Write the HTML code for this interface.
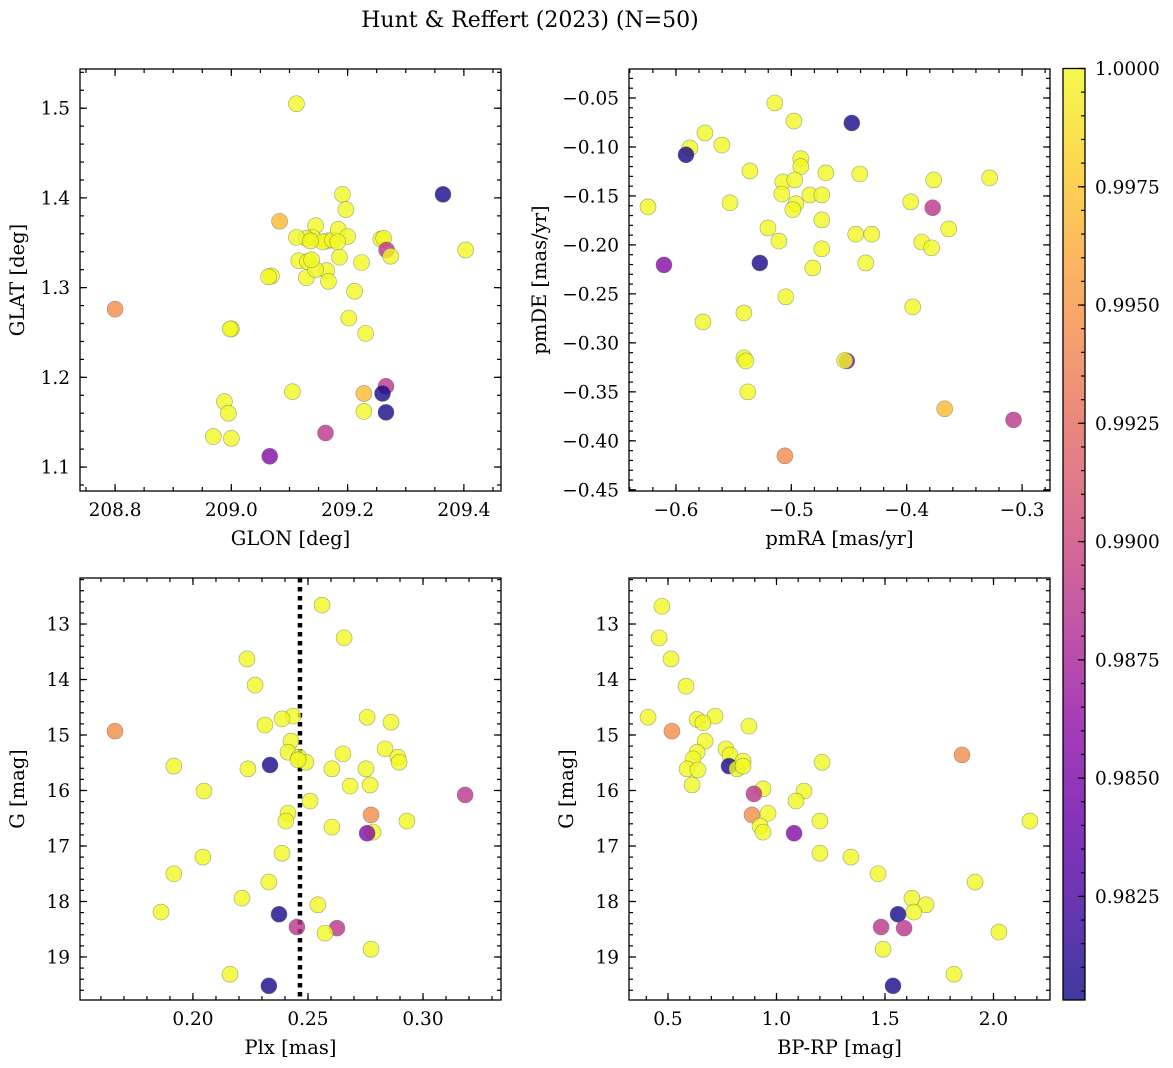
<!DOCTYPE html>
<html><head><meta charset="utf-8"><style>
html,body{margin:0;padding:0;background:#fff;}
svg{display:block;font-family:"DejaVu Serif","Liberation Serif",serif;}
</style></head><body>
<svg id="fig" width="1173" height="1068" viewBox="0 0 1173 1068" xmlns="http://www.w3.org/2000/svg">
<defs>
<linearGradient id="plasma" x1="0" y1="1" x2="0" y2="0">
<stop offset="0" stop-color="#0d0887"/><stop offset="0.1" stop-color="#41049d"/><stop offset="0.2" stop-color="#6a00a8"/><stop offset="0.3" stop-color="#8f0da4"/><stop offset="0.4" stop-color="#b12a90"/><stop offset="0.5" stop-color="#cc4778"/><stop offset="0.6" stop-color="#e16462"/><stop offset="0.7" stop-color="#f2844b"/><stop offset="0.8" stop-color="#fca636"/><stop offset="0.9" stop-color="#fcce25"/><stop offset="1" stop-color="#f0f921"/>
</linearGradient>
</defs>
<text x="530" y="27" font-size="22" text-anchor="middle">Hunt &amp; Reffert (2023) (N=50)</text>
</svg>
<script>
// ---- data ----
const glon = [209.112,209.364,209.083,209.191,209.197,209.145,209.140,209.129,209.164,209.157,209.174,209.184,209.200,209.257,209.262,209.267,209.274,209.403,209.224,209.116,209.131,209.069,209.064,209.129,209.164,209.145,209.167,209.212,208.800,209.202,209.000,209.231,209.105,209.266,209.228,209.260,208.988,208.995,209.228,209.266,208.969,209.000,209.162,209.066,209.138,209.186,209.112,209.136,209.183,208.998];
const glat = [1.505,1.404,1.374,1.404,1.387,1.369,1.356,1.355,1.352,1.351,1.353,1.365,1.357,1.354,1.355,1.342,1.335,1.342,1.328,1.330,1.329,1.313,1.312,1.311,1.319,1.320,1.307,1.296,1.276,1.266,1.254,1.249,1.184,1.190,1.182,1.182,1.173,1.160,1.162,1.161,1.134,1.132,1.138,1.112,1.331,1.334,1.356,1.352,1.351,1.254];
const probPos = [1,0.9806,0.997,1,1,1,1,1,1,1,1,1,1,1,1,0.9888,1,1,1,1,1,1,1,1,1,1,1,1,0.9945,1,1,1,1,0.9888,0.997,0.9806,1,1,1,0.9806,1,1,0.9888,0.9855,1,1,1,1,1,1];

const pmra = [-0.5143,-0.4476,-0.4978,-0.5749,-0.5879,-0.5913,-0.5602,-0.4918,-0.4918,-0.5359,-0.4701,-0.4407,-0.3281,-0.3766,-0.5074,-0.4970,-0.4840,-0.4736,-0.5082,-0.6242,-0.5532,-0.4961,-0.3965,-0.3775,-0.4987,-0.4736,-0.5203,-0.3636,-0.4442,-0.4303,-0.5108,-0.3870,-0.4736,-0.3784,-0.6104,-0.5273,-0.4355,-0.4814,-0.5048,-0.5766,-0.5411,-0.3948,-0.5411,-0.5394,-0.4519,-0.5377,-0.3671,-0.3074,-0.5056,-0.4537];
const pmde = [-0.0551,-0.0755,-0.0735,-0.0857,-0.101,-0.108,-0.098,-0.112,-0.120,-0.1245,-0.1265,-0.1276,-0.1316,-0.1337,-0.1357,-0.1337,-0.149,-0.149,-0.148,-0.1612,-0.157,-0.158,-0.156,-0.162,-0.164,-0.1745,-0.1827,-0.1837,-0.189,-0.189,-0.196,-0.197,-0.204,-0.203,-0.2204,-0.2184,-0.2184,-0.2235,-0.253,-0.2786,-0.2694,-0.2633,-0.3153,-0.3184,-0.3184,-0.35,-0.3673,-0.3786,-0.4153,-0.318];
const probPm = [1,0.9806,1,1,1,0.9806,1,1,1,1,1,1,1,1,1,1,1,1,1,1,1,1,1,0.9888,1,1,1,1,1,1,1,1,1,1,0.9855,0.9806,1,1,1,1,1,1,1,1,0.9855,1,0.997,0.9888,0.9945,1];

const plx = [0.2561,0.2657,0.2235,0.2270,0.2757,0.2861,0.2435,0.2387,0.2313,0.1661,0.2426,0.2413,0.2461,0.2491,0.2652,0.2835,0.2891,0.2896,0.1917,0.2239,0.2335,0.2604,0.2752,0.2770,0.2683,0.2048,0.2509,0.3183,0.2774,0.2413,0.2404,0.2930,0.2604,0.2783,0.2757,0.2387,0.2043,0.1917,0.2330,0.2543,0.1861,0.2213,0.2374,0.2452,0.2626,0.2574,0.2774,0.2161,0.2330,0.2457];
const gPlx = [12.66,13.25,13.63,14.10,14.68,14.77,14.66,14.71,14.82,14.93,15.11,15.31,15.40,15.49,15.34,15.25,15.40,15.49,15.56,15.61,15.54,15.61,15.61,15.90,15.92,16.01,16.19,16.08,16.44,16.41,16.55,16.55,16.66,16.75,16.77,17.13,17.20,17.50,17.65,18.06,18.19,17.94,18.23,18.46,18.48,18.57,18.86,19.31,19.52,15.45];
const probPlx = [1,1,1,1,1,1,1,1,1,0.9945,1,1,1,1,1,1,1,1,1,1,0.9806,1,1,1,1,1,1,0.9888,0.9945,1,1,1,1,1,0.9855,1,1,1,1,1,1,1,0.9806,0.9888,0.9888,1,1,1,0.9806,1];
const plxCluster = [0.2465];

const bprp = [0.472,0.459,0.514,0.583,0.408,0.717,0.634,0.661,0.873,0.518,0.671,0.767,0.786,0.634,0.615,0.588,0.638,0.781,0.818,0.846,0.846,0.611,1.210,1.855,0.938,0.896,1.127,1.090,0.961,0.887,0.924,0.938,1.081,1.200,2.168,1.200,1.343,1.468,1.915,1.624,1.689,1.633,1.560,1.482,1.588,2.025,1.491,1.818,1.537];
const gCmd = [12.68,13.25,13.63,14.12,14.68,14.66,14.72,14.78,14.84,14.93,15.11,15.25,15.36,15.31,15.43,15.61,15.63,15.56,15.61,15.47,15.56,15.90,15.49,15.36,15.97,16.06,16.01,16.19,16.41,16.44,16.64,16.75,16.77,16.55,16.55,17.13,17.20,17.50,17.65,17.94,18.06,18.19,18.23,18.46,18.48,18.55,18.86,19.31,19.52];
const probCmd = [1,1,1,1,1,1,1,1,1,0.9945,1,1,1,1,1,1,1,0.9806,1,1,1,1,1,0.9945,1,0.9888,1,1,1,0.9945,1,1,0.9855,1,1,1,1,1,1,1,1,1,0.9806,0.9888,0.9888,1,1,1,0.9806];

const glonTicks = [208.8,209.0,209.2,209.4];
const glatTicks = [1.1,1.2,1.3,1.4,1.5];
const pmraTicks = [-0.6,-0.5,-0.4,-0.3];
const pmdeTicks = [-0.45,-0.40,-0.35,-0.30,-0.25,-0.20,-0.15,-0.10,-0.05];
const plxTicks = [0.20,0.25,0.30];
const gTicks = [13,14,15,16,17,18,19];
const bprpTicks = [0.5,1.0,1.5,2.0];
const cbarTicks = [0.9825,0.9850,0.9875,0.9900,0.9925,0.9950,0.9975,1.0000];

// ---- drawing ----
const NS = "http://www.w3.org/2000/svg";
const svg = document.getElementById('fig');
const PMIN = 0.98031, PMAX = 1.0;
const TFS = 18.5, LFS = 19.5;
const stops = [[13,8,135],[65,4,157],[106,0,168],[143,13,164],[177,42,144],[204,71,120],[225,100,98],[242,132,75],[252,166,54],[252,206,37],[240,249,33]];
function plasma(p){
  let t = Math.max(0, Math.min(1, (p - PMIN) / (PMAX - PMIN))) * 10;
  const i = Math.min(9, Math.floor(t)), f = t - i;
  const a = stops[i], b = stops[i+1];
  return 'rgb(' + a.map((v,k)=>Math.round(v + (b[k]-v)*f)).join(',') + ')';
}
function el(tag, attrs, parent){
  const e = document.createElementNS(NS, tag);
  for (const k in attrs) e.setAttribute(k, attrs[k]);
  (parent || svg).appendChild(e);
  return e;
}
function fmt(v, d){ const s = Math.abs(v).toFixed(d); return (v < 0 ? '\u2212' : '') + s; }

function panel(cfg){
  const g = el('g', {});
  
  
  const L = cfg.box[0], T = cfg.box[1], R = cfg.box[2], B = cfg.box[3];
  const sx = v => L + (v - cfg.xr[0]) / (cfg.xr[1] - cfg.xr[0]) * (R - L);
  const sy = v => T + (v - cfg.yr[0]) / (cfg.yr[1] - cfg.yr[0]) * (B - T);
  const tk = (x1,y1,x2,y2) => el('line', {x1:x1,y1:y1,x2:x2,y2:y2,stroke:'#000','stroke-width':1.2}, g);
  const xlo = Math.min(cfg.xr[0],cfg.xr[1]), xhi = Math.max(cfg.xr[0],cfg.xr[1]);
  const ylo = Math.min(cfg.yr[0],cfg.yr[1]), yhi = Math.max(cfg.yr[0],cfg.yr[1]);
  for (let v = Math.ceil(xlo / cfg.xminor - 1e-6) * cfg.xminor; v <= xhi + 1e-9; v += cfg.xminor){
    const x = sx(v); tk(x,B,x,B-4); tk(x,T,x,T+4);
  }
  for (let v = Math.ceil(ylo / cfg.yminor - 1e-6) * cfg.yminor; v <= yhi + 1e-9; v += cfg.yminor){
    const y = sy(v); tk(L,y,L+4,y); tk(R,y,R-4,y);
  }
  cfg.xticks.forEach(v => {
    const x = sx(v); tk(x,B,x,B-7); tk(x,T,x,T+7);
    const t = el('text', {x:x, y:B+25, 'font-size':TFS, 'text-anchor':'middle'}, g);
    t.textContent = fmt(v, cfg.xd);
    
    
  });
  cfg.yticks.forEach(v => {
    const y = sy(v); tk(L,y,L+7,y); tk(R,y,R-7,y);
    const t = el('text', {x:L-10, y:y+6.5, 'font-size':TFS, 'text-anchor':'end'}, g);
    t.textContent = fmt(v, cfg.yd);
    
    
  });
  if (cfg.vline){
    cfg.vline.forEach(v => {
      const ln = el('line', {x1:sx(v), y1:T, x2:sx(v), y2:B, stroke:'#000', 'stroke-width':4.5, 'stroke-dasharray':'4.5,4.5'}, g);
      
      
    });
  }
  cfg.xs.forEach((xv, i) => {
    const c = el('circle', {cx:sx(xv), cy:sy(cfg.ys[i]), r:8, fill:plasma(cfg.ps[i]), 'fill-opacity':0.8, stroke:'#666', 'stroke-opacity':0.6, 'stroke-width':0.6}, g);
    
    
  });
  const fr = el('rect', {x:L, y:T, width:R-L, height:B-T, fill:'none', stroke:'#000', 'stroke-width':1.3}, g);
  
  
  const xl = el('text', {x:(L+R)/2, y:B+54, 'font-size':LFS, 'text-anchor':'middle'}, g);
  xl.textContent = cfg.xlabel;
  
  
  const yl = el('text', {x:0, y:0, 'font-size':LFS, 'text-anchor':'middle', transform:'translate(' + (cfg.ylx) + ',' + ((T+B)/2) + ') rotate(-90)'}, g);
  yl.textContent = cfg.ylabel;
  
  
}

panel({name:'position-panel', box:[80,69,501,491], xr:[208.7397,209.4638], yr:[1.5437,1.0733],
  xs:glon, ys:glat, ps:probPos, xticks:glonTicks, yticks:glatTicks, xd:1, yd:1, xminor:0.05, yminor:0.02,
  xlabel:'GLON [deg]', ylabel:'GLAT [deg]', ylx:24});
panel({name:'proper-motion-panel', box:[629,69,1050,491], xr:[-0.6407,-0.2758], yr:[-0.0204,-0.4512],
  xs:pmra, ys:pmde, ps:probPm, xticks:pmraTicks, yticks:pmdeTicks, xd:1, yd:2, xminor:0.02, yminor:0.01,
  xlabel:'pmRA [mas/yr]', ylabel:'pmDE [mas/yr]', ylx:546});
panel({name:'parallax-magnitude-panel', box:[80,578,501,1000], xr:[0.1509,0.3339], yr:[12.171,19.775],
  xs:plx, ys:gPlx, ps:probPlx, xticks:plxTicks, yticks:gTicks, xd:2, yd:0, xminor:0.01, yminor:0.2,
  xlabel:'Plx [mas]', ylabel:'G [mag]', ylx:24, vline:plxCluster});
panel({name:'color-magnitude-panel', box:[629,578,1050,1000], xr:[0.3203,2.2604], yr:[12.171,19.775],
  xs:bprp, ys:gCmd, ps:probCmd, xticks:bprpTicks, yticks:gTicks, xd:1, yd:0, xminor:0.1, yminor:0.2,
  xlabel:'BP-RP [mag]', ylabel:'G [mag]', ylx:573});

// colorbar
(function(){
  const L = 1063, R = 1085, T = 68.5, B = 1000;
  const g = el('g', {});
  
  
  const sy = v => T + (PMAX - v) / (PMAX - PMIN) * (B - T);
  el('rect', {x:L, y:T, width:R-L, height:B-T, fill:'url(#plasma)', 'fill-opacity':0.8}, g);
  for (let v = 0.9805; v <= 1.00001; v += 0.0005){
    const y = sy(v); el('line', {x1:R, y1:y, x2:R-4, y2:y, stroke:'#000', 'stroke-width':1.2}, g);
  }
  cbarTicks.forEach(v => {
    const y = sy(v);
    el('line', {x1:R, y1:y, x2:R-7, y2:y, stroke:'#000', 'stroke-width':1.2}, g);
    const t = el('text', {x:R+10, y:y+6.5, 'font-size':TFS}, g);
    t.textContent = v.toFixed(4);
    
    
  });
  el('rect', {x:L, y:T, width:R-L, height:B-T, fill:'none', stroke:'#000', 'stroke-width':1.3}, g);
})();
</script>
</body></html>
